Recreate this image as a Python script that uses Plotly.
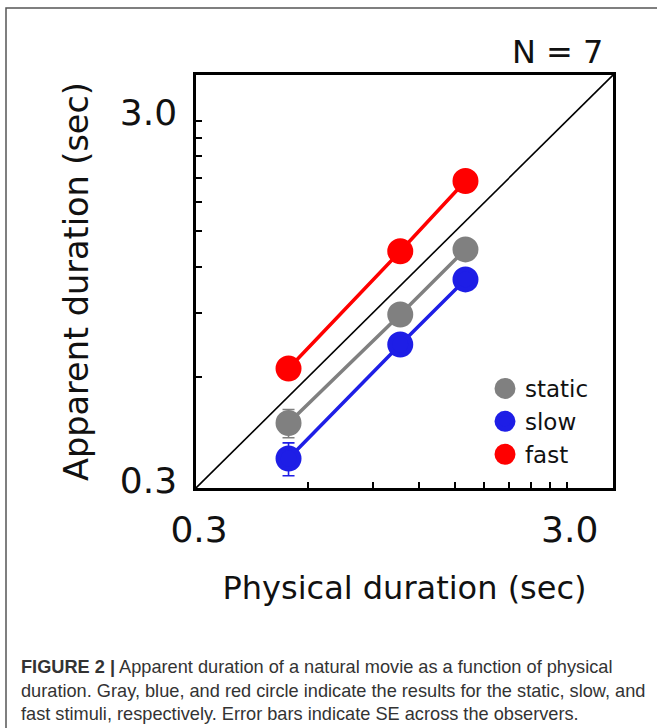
import plotly.graph_objects as go

# ---- data ----
physical = [0.533, 1.067, 1.6]
static_vals = [0.451, 0.891, 1.340]
static_se = [0.040, 0.030, 0.040]
slow_vals = [0.361, 0.738, 1.110]
slow_se = [0.037, 0.030, 0.035]
fast_vals = [0.635, 1.324, 2.057]
fast_se = [0.030, 0.040, 0.050]
identity = [0.3, 4.0]
tick_vals = [0.3, 0.6, 0.9, 1.2, 1.5, 1.8, 2.1, 2.4, 2.7, 3.0]
tick_text = ["0.3", "", "", "", "", "", "", "", "", "3.0"]

series = [
    ("static", static_vals, static_se, "#808080"),
    ("slow", slow_vals, slow_se, "#1e1ee6"),
    ("fast", fast_vals, fast_se, "#ff0000"),
]

W, H = 657, 728
L, R, T, B = 196, 44, 75, 240
pw, ph = W - L - R, H - T - B

def px(x):
    return (x - L) / pw

def py(y):
    return (H - B - y) / ph

fig = go.Figure()

fig.add_trace(go.Scatter(x=identity, y=identity, mode="lines",
                         line=dict(color="black", width=1.6),
                         showlegend=False, hoverinfo="skip"))

for name, vals, se, col in series:
    fig.add_trace(go.Scatter(x=physical, y=vals, mode="lines",
                             line=dict(color=col, width=3.5),
                             showlegend=False, hoverinfo="skip"))
for name, vals, se, col in series:
    fig.add_trace(go.Scatter(x=physical, y=vals, mode="markers", name=name,
                             marker=dict(color=col, size=21,
                                         line=dict(color=col, width=5)),
                             error_y=dict(type="data", array=se, color=col,
                                          thickness=1.6, width=6)))

font_main = "DejaVu Sans, Verdana, sans-serif"

axis_common = dict(
    type="log",
    range=[-0.5229, 0.6021],
    tickvals=tick_vals,
    ticktext=tick_text,
    ticks="inside",
    ticklen=6,
    tickwidth=2,
    tickcolor="black",
    showline=True,
    linecolor="black",
    linewidth=2.5,
    mirror=True,
    showgrid=False,
    zeroline=False,
    tickfont=dict(family=font_main, size=36, color="#111"),
)

fig.update_xaxes(**axis_common,
                 title=dict(text="Physical duration (sec)",
                            font=dict(family=font_main, size=32, color="#111"),
                            standoff=28),
                 ticklabelstandoff=8, ticklabelshift=3)
fig.update_yaxes(**axis_common,
                 title=dict(text="Apparent duration (sec)",
                            font=dict(family=font_main, size=33.5, color="#111"),
                            standoff=22),
                 ticklabelstandoff=9, ticklabelshift=-8)

caption = ("<b>FIGURE 2 |</b> Apparent duration of a natural movie as a function of physical<br>"
           "duration. Gray, blue, and red circle indicate the results for the static, slow, and<br>"
           "fast stimuli, respectively. Error bars indicate SE across the observers.")

fig.update_layout(
    width=W, height=H,
    margin=dict(l=L, r=R, t=T, b=B, pad=0),
    paper_bgcolor="white",
    plot_bgcolor="white",
    showlegend=True,
    legend=dict(x=px(485), y=py(367), xanchor="left", yanchor="top",
                bgcolor="rgba(0,0,0,0)",
                font=dict(family=font_main, size=23, color="#111"),
                tracegroupgap=0, itemsizing="trace"),
    shapes=[dict(type="rect", xref="paper", yref="paper",
                 x0=px(6), x1=px(720), y0=py(790), y1=py(8),
                 line=dict(color="#555", width=1.5), layer="below")],
    annotations=[
        dict(text="N = 7", xref="paper", yref="paper", x=px(557), y=py(52),
             xanchor="center", yanchor="middle", showarrow=False,
             font=dict(family=font_main, size=32, color="#111")),
        dict(text=caption, xref="paper", yref="paper", x=px(19), y=py(655),
             xanchor="left", yanchor="top", align="left", showarrow=False,
             font=dict(family="Liberation Sans Narrow, Liberation Sans, Arial, sans-serif",
                       size=18.2, color="#333")),
    ],
)

fig.write_html("out.html", config={"displayModeBar": False},
               post_script="document.body.style.margin='0';document.body.style.overflow='hidden';")
